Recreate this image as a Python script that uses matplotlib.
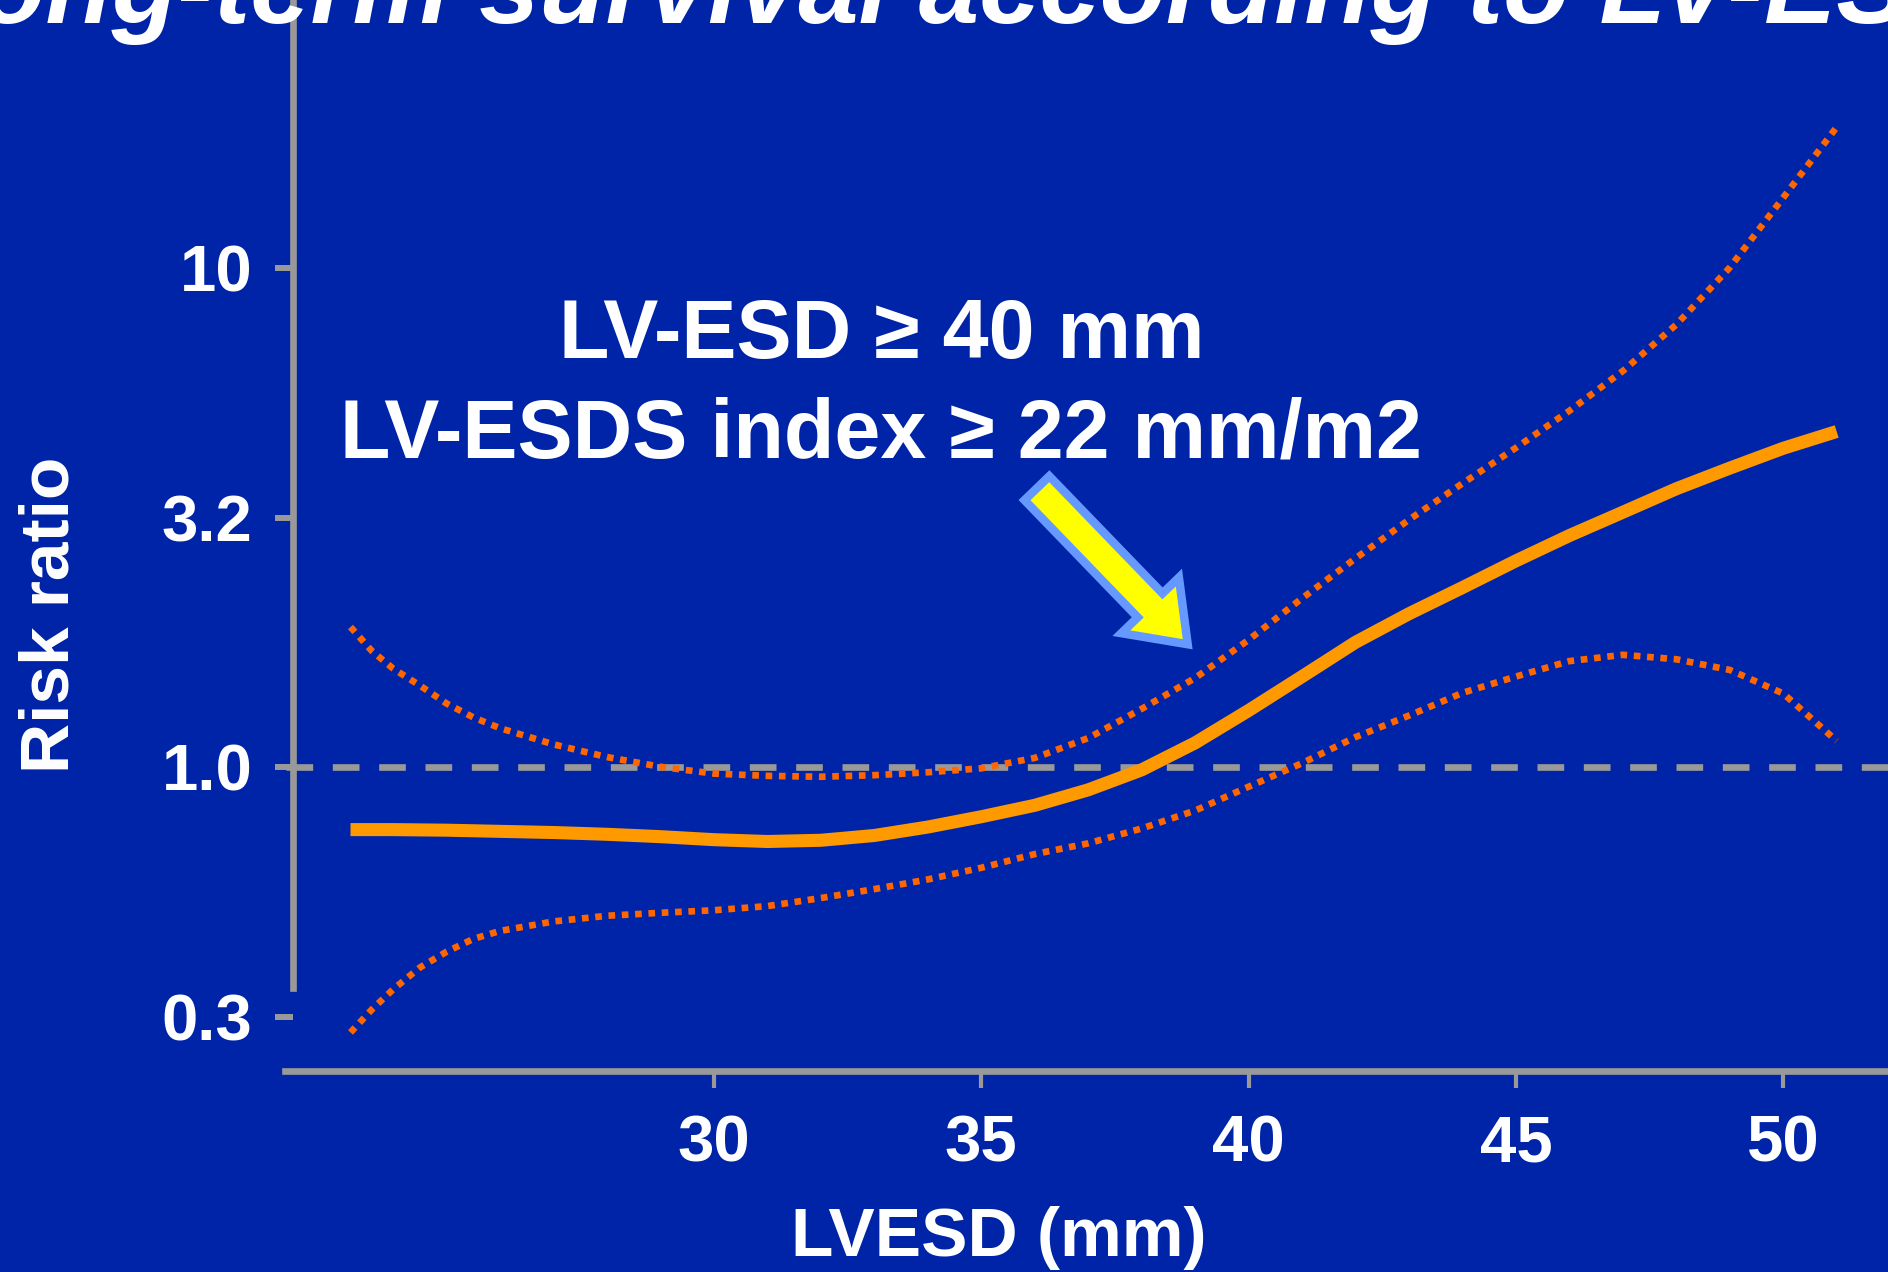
import matplotlib
matplotlib.use("Agg")
import matplotlib.pyplot as plt

bg = "#0024A8"
grey = "#999999"
plt.rcParams['font.family'] = ['Liberation Sans', 'DejaVu Sans']
plt.rcParams['font.weight'] = 'bold'

# LVESD (mm)
lvesd = [23.2, 23.6, 24, 24.5, 25, 25.5, 26, 27, 28, 29, 30, 31, 32, 33, 34,
         35, 36, 37, 38, 39, 40, 41, 42, 43, 44, 45, 46, 47, 48, 49, 50, 51]
# risk ratio (point estimate)
rr = [0.751, 0.751, 0.751, 0.750, 0.749, 0.747, 0.745, 0.741, 0.735, 0.727,
      0.717, 0.711, 0.715, 0.731, 0.760, 0.797, 0.840, 0.902, 0.989, 1.12,
      1.30, 1.52, 1.78, 2.03, 2.29, 2.59, 2.91, 3.24, 3.61, 3.97, 4.35, 4.70]
# upper confidence limit
rr_hi = [1.91, 1.71, 1.576, 1.458, 1.342, 1.259, 1.198, 1.112, 1.049, 1.003,
         0.972, 0.962, 0.958, 0.965, 0.978, 0.996, 1.045, 1.145, 1.31, 1.51,
         1.80, 2.18, 2.62, 3.13, 3.70, 4.36, 5.17, 6.21, 7.69, 10.0, 13.8, 19.1]
# lower confidence limit
rr_lo = [0.295, 0.328, 0.360, 0.398, 0.428, 0.454, 0.471, 0.492, 0.505, 0.512,
         0.518, 0.528, 0.548, 0.571, 0.597, 0.630, 0.671, 0.705, 0.755, 0.820,
         0.915, 1.02, 1.15, 1.27, 1.41, 1.52, 1.632, 1.68, 1.646, 1.567, 1.406,
         1.13]

xticks = [30, 35, 40, 45, 50]
yticks = [10, 10 ** 0.5, 1.0, 10 ** -0.5]
ylabels = ["10", "3.2", "1.0", "0.3"]

fig = plt.figure(figsize=(18.88, 12.72), dpi=100, facecolor=bg)
ax = fig.add_axes([0.1511, 0.158, 0.8489, 0.842])
ax.set_facecolor(bg)
ax.set_yscale('log')
ax.set_xlim(21.98, 51.96)
ax.set_ylim(0.247, 34.3)

ax.plot([22.0, 52], [1.0, 1.0], color=grey, lw=4.8, dashes=(4.0, 2.95),
        dash_capstyle='butt')
ax.plot(lvesd, rr_hi, color="#FF6600", lw=4.8, dashes=(1, 1),
        dash_capstyle='butt')
ax.plot(lvesd, rr_lo, color="#FF6600", lw=4.8, dashes=(1, 1),
        dash_capstyle='butt')
ax.plot(lvesd, rr, color="#FF9900", lw=9.4, solid_capstyle='butt')

for s in ['top', 'right']:
    ax.spines[s].set_visible(False)
ax.spines['left'].set_position(('data', 22.12))
ax.spines['left'].set_bounds(0.362, 34.3)
for s in ['left', 'bottom']:
    ax.spines[s].set_color(grey)
    ax.spines[s].set_linewidth(4.8)

ax.set_xticks(xticks)
ax.set_xticklabels([str(v) for v in xticks])
ax.set_yticks(yticks)
ax.set_yticklabels(ylabels)
ax.minorticks_off()
ax.tick_params(axis='x', colors=grey, labelcolor='white', labelsize=47,
               length=12.5, width=3, pad=19)
ax.tick_params(axis='y', colors=grey, labelcolor='white', labelsize=47,
               length=13, width=4.3, pad=16)

ax.annotate('', xy=(38.86, 1.764), xytext=(36.04, 3.62),
            arrowprops=dict(arrowstyle='simple,head_length=3.89,head_width=5.76,tail_width=2.48',
                            mutation_scale=10, fc='#FFFF00', ec='#6699FF', lw=6.1,
                            shrinkA=0, shrinkB=0, joinstyle='miter'),
            annotation_clip=False)

fig.text(0.4668, 0.7189, "LV-ESD \u2265 40 mm", color='white', fontsize=59.5,
         ha='center', va='baseline')
fig.text(0.4668, 0.6403, "LV-ESDS index \u2265 22 mm/m2", color='white', fontsize=59.5,
         ha='center', va='baseline')

fig.text(-0.046, 0.982, "Long-term survival according to LV-ESD", color='white',
         fontsize=78, fontstyle='italic', ha='left', va='baseline')
fig.text(0.529, 0.0126, "LVESD (mm)", color='white', fontsize=50,
         ha='center', va='baseline')
fig.text(0.0265, 0.517, "Risk ratio", color='white', fontsize=50,
         rotation=90, ha='center', va='center')

fig.savefig("out.png", dpi=100, facecolor=bg)
